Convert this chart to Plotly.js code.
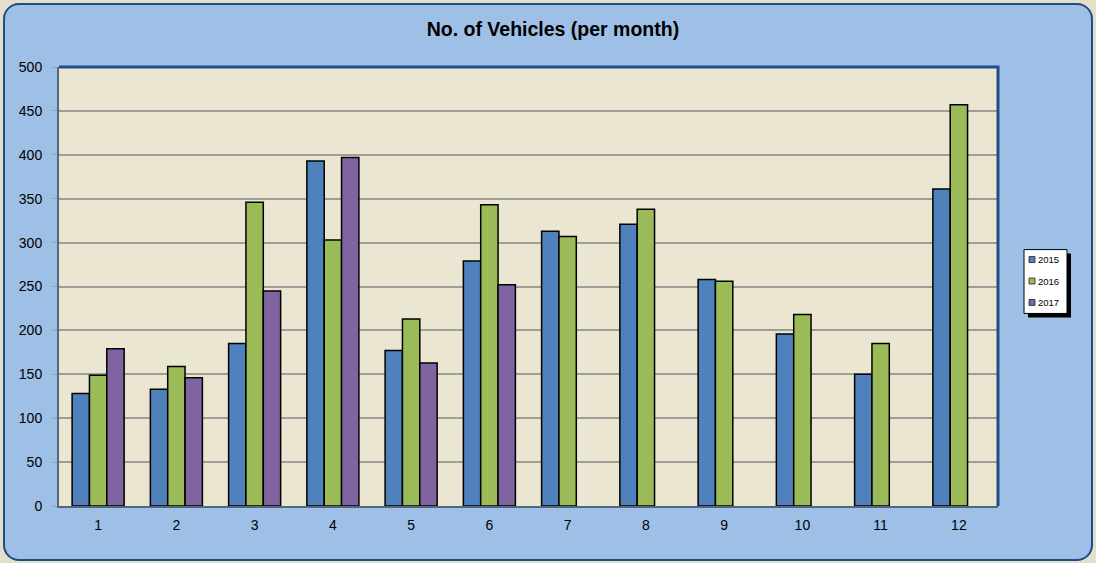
<!DOCTYPE html>
<html>
<head>
<meta charset="utf-8">
<script src="https://cdn.plot.ly/plotly-3.0.1.min.js"></script>
<style>
  html, body { margin: 0; padding: 0; background: #e3dfca; width: 1096px; height: 563px; overflow: hidden; }
  #frame { position: absolute; left: 3px; top: 3px; width: 1086px; height: 554px;
           background: #9ebfe6; border: 2px solid #1f4e86; border-radius: 16px; }
  #chart { position: absolute; left: 0; top: 0; width: 1096px; height: 563px; }
</style>
</head>
<body>
<div id="frame"></div>
<div id="chart"></div>
<script>
const months = ['1','2','3','4','5','6','7','8','9','10','11','12'];
const seriesNames = ['2015', '2016', '2017'];
const values2015 = [128, 133, 185, 393, 177, 279, 313, 321, 258, 196, 150, 361];
const values2016 = [149, 159, 346, 303, 213, 343, 307, 338, 256, 218, 185, 457];
const values2017 = [179, 146, 245, 397, 163, 252, null, null, null, null, null, null];
const seriesColors = ['#4f81bd', '#9bbb59', '#8064a2'];
const yTicks = [0, 50, 100, 150, 200, 250, 300, 350, 400, 450, 500];

const allValues = [values2015, values2016, values2017];
const traces = allValues.map((vals, i) => ({
  type: 'bar',
  name: seriesNames[i],
  x: months,
  y: vals,
  marker: { color: seriesColors[i], line: { color: '#000000', width: 1.5 } },
  showlegend: false,
  hoverinfo: 'x+y+name'
}));

// manual legend (small swatches like the original)
const L = { left: 1024, top: 249, right: 1067, bottom: 313 };
const px2x = p => (p - 59) / 939;
const px2y = p => (506 - p) / 440;
const shapes = [
  // legend shadow
  { type: 'rect', xref: 'paper', yref: 'paper', x0: px2x(L.left + 4), x1: px2x(L.right + 4),
    y0: px2y(L.bottom + 4), y1: px2y(L.top + 4), fillcolor: '#000000', line: { width: 0 } },
  // legend box
  { type: 'rect', xref: 'paper', yref: 'paper', x0: px2x(L.left), x1: px2x(L.right),
    y0: px2y(L.bottom), y1: px2y(L.top), fillcolor: '#ffffff', line: { color: '#000000', width: 1 } },
  // top and right plot border (dark blue)
  { type: 'path', xref: 'paper', yref: 'paper', path: 'M 0 1 L 1 1 L 1 0',
    line: { color: '#1f4e86', width: 3 }, layer: 'above' }
];
const annotations = [];
seriesNames.forEach((nm, i) => {
  const cy = 259 + i * 21.5;
  shapes.push({ type: 'rect', xref: 'paper', yref: 'paper',
    x0: px2x(L.left + 5), x1: px2x(L.left + 11), y0: px2y(cy + 3), y1: px2y(cy - 3),
    fillcolor: seriesColors[i], line: { color: '#222222', width: 0.8 } });
  annotations.push({ xref: 'paper', yref: 'paper', x: px2x(L.left + 12), y: px2y(cy),
    xanchor: 'left', yanchor: 'middle', text: nm, showarrow: false,
    font: { family: 'Liberation Sans, Arial, sans-serif', size: 9.5, color: '#000000' } });
});

const layout = {
  width: 1096, height: 563,
  margin: { l: 59, r: 98, t: 67, b: 57 },
  paper_bgcolor: 'rgba(0,0,0,0)',
  plot_bgcolor: '#ebe6d1',
  title: { text: '<b>No. of Vehicles (per month)</b>', x: 0.5045, xanchor: 'center', y: 0.9485, yanchor: 'middle',
           font: { family: 'Liberation Sans, Arial, sans-serif', size: 19.5, color: '#000000' } },
  barmode: 'group',
  bargap: 0.335,
  bargroupgap: 0,
  font: { family: 'Liberation Sans, Arial, sans-serif', size: 14, color: '#000000' },
  xaxis: {
    type: 'category',
    tickvals: months, ticktext: months,
    showgrid: false, zeroline: false,
    showline: true, linecolor: '#55667c', linewidth: 2,
    ticks: '', ticklabelstandoff: 5,
    tickfont: { size: 14 }
  },
  yaxis: {
    range: [0, 500],
    tickvals: yTicks,
    showgrid: true, gridcolor: '#9e9d98', gridwidth: 1.5,
    zeroline: false,
    showline: true, linecolor: '#55667c', linewidth: 2,
    ticks: 'outside', ticklen: 4, tickcolor: '#9e9d98',
    ticklabelstandoff: 8,
    tickfont: { size: 14 }
  },
  shapes: shapes,
  annotations: annotations
};

Plotly.newPlot('chart', traces, layout, { displayModeBar: false, staticPlot: false });
</script>
</body>
</html>
